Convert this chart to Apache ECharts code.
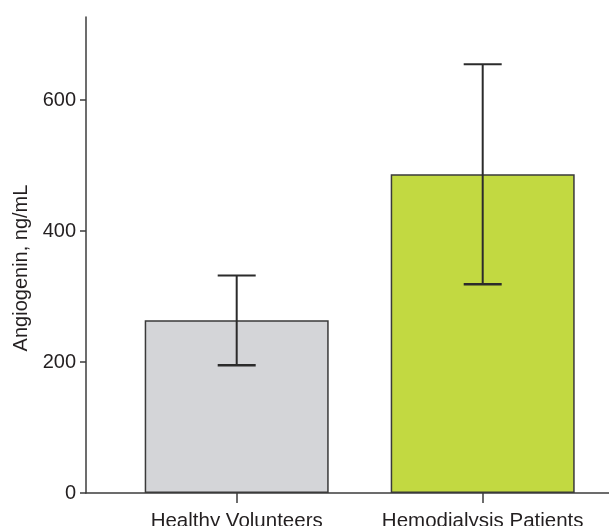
<!DOCTYPE html>
<html>
<head>
<meta charset="utf-8">
<script src="https://cdn.jsdelivr.net/npm/echarts@6/dist/echarts.min.js"></script>
<style>
html,body{margin:0;padding:0;background:#fff;}
#c{width:609px;height:526px;}
</style>
</head>
<body>
<div id="c"></div>
<script>
// ---- data ----
var categories = ['Healthy Volunteers', 'Hemodialysis Patients'];
var means = [264, 487];
var errLow = [195, 319];
var errHigh = [332, 655];
var yTicks = [0, 200, 400, 600];
var barColors = ['#d4d5d8', '#c2d941'];
var yName = 'Angiogenin, ng/mL';

var FONT = '"Liberation Sans", Arial, Helvetica, sans-serif';
var chart = echarts.init(document.getElementById('c'), null, {renderer: 'canvas'});

var barData = means.map(function (v, i) {
  return { value: [i, v], itemStyle: { color: barColors[i] } };
});
var errData = means.map(function (v, i) { return [i, errLow[i], errHigh[i]]; });

chart.setOption({
  animation: false,
  backgroundColor: '#ffffff',
  grid: { left: 86, right: 0, top: 17, bottom: 33, containLabel: false, outerBoundsMode: 'none' },
  xAxis: {
    type: 'value',
    min: -0.6126,
    max: 1.5134,
    splitLine: { show: false },
    axisLine: { show: true, onZero: false, lineStyle: { color: '#3c3c3c', width: 1.5 } },
    axisTick: { show: true, length: 10, customValues: [0, 1], lineStyle: { color: '#3c3c3c', width: 1.5 } },
    axisLabel: {
      show: true, customValues: [0, 1], margin: 18,
      color: '#231f20', fontFamily: FONT, fontSize: 20.5,
      formatter: function (v) { return categories[Math.round(v)] || ''; }
    }
  },
  yAxis: {
    type: 'value',
    min: 0,
    max: 727,
    interval: 200,
    name: yName,
    nameLocation: 'middle',
    nameRotate: 90,
    nameGap: 55,
    nameTextStyle: { color: '#231f20', fontFamily: FONT, fontSize: 20, padding: [0, 26, 0, 0] },
    splitLine: { show: false },
    axisLine: { show: true, onZero: false, lineStyle: { color: '#3c3c3c', width: 1.5 } },
    axisTick: { show: true, length: 6, customValues: yTicks, lineStyle: { color: '#3c3c3c', width: 1.5 } },
    axisLabel: { customValues: yTicks, margin: 10, color: '#231f20', fontFamily: FONT, fontSize: 20 }
  },
  series: [
    {
      type: 'bar',
      data: barData,
      barWidth: 184,
      itemStyle: { borderColor: '#3a3a3a', borderWidth: 1.5 },
      z: 2
    },
    {
      type: 'custom',
      data: errData,
      z: 5,
      renderItem: function (params, api) {
        var x = api.value(0);
        var lo = api.coord([x, api.value(1)]);
        var hi = api.coord([x, api.value(2)]);
        var half = 19;
        var style = { stroke: '#2b2b2b', lineWidth: 2 };
        return {
          type: 'group',
          children: [
            { type: 'line', shape: { x1: hi[0], y1: hi[1], x2: lo[0], y2: lo[1] }, style: style },
            { type: 'line', shape: { x1: hi[0] - half, y1: hi[1], x2: hi[0] + half, y2: hi[1] }, style: style },
            { type: 'line', shape: { x1: lo[0] - half, y1: lo[1], x2: lo[0] + half, y2: lo[1] }, style: { stroke: '#2b2b2b', lineWidth: 2.5 } }
          ]
        };
      }
    }
  ]
});
</script>
</body>
</html>
